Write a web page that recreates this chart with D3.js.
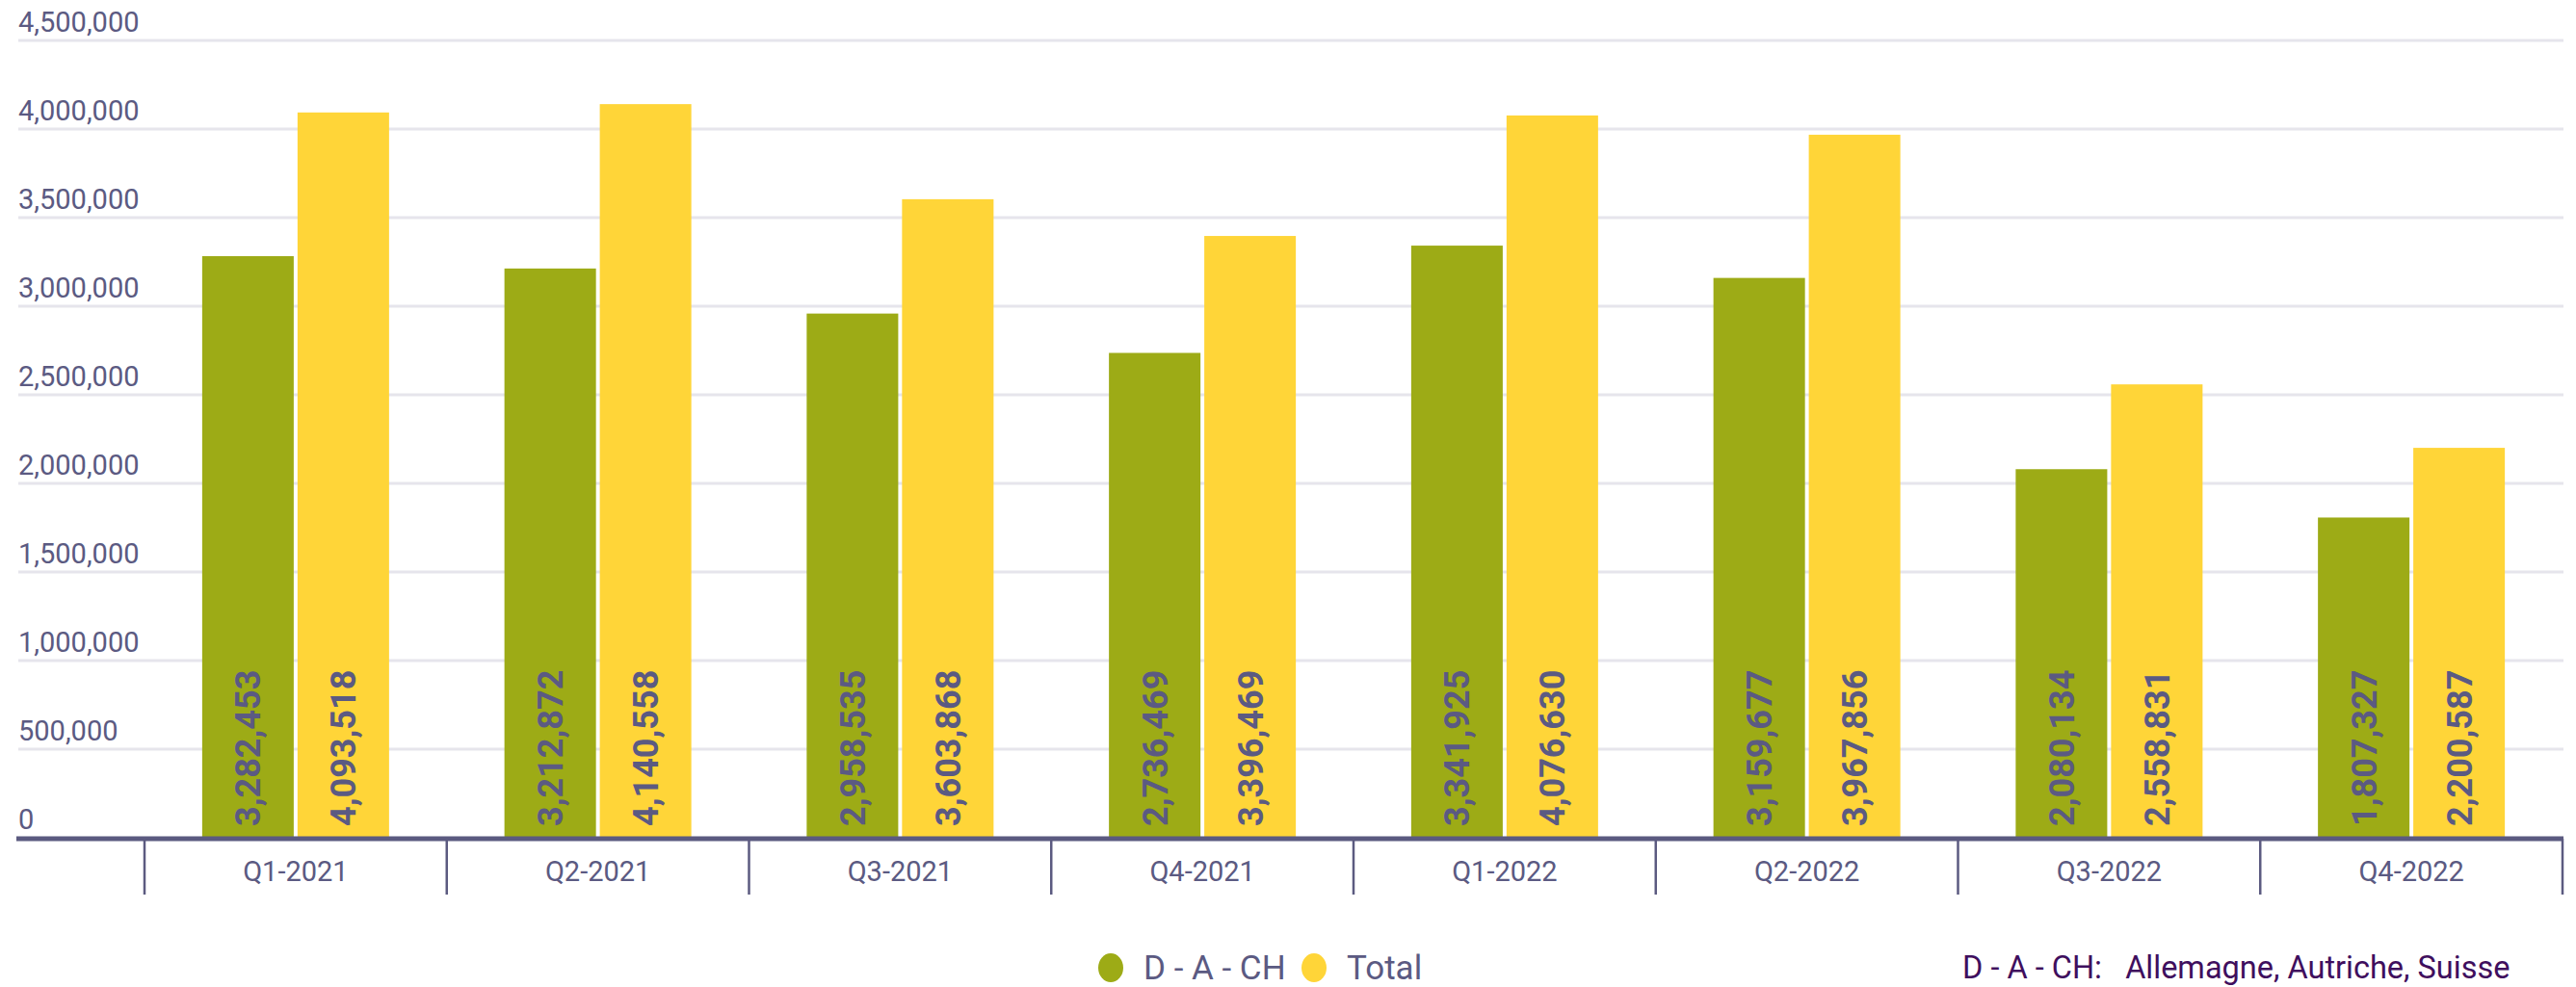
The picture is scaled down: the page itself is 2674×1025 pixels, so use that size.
<!DOCTYPE html>
<html lang="fr">
<head>
  <meta charset="UTF-8">
  <title>D - A - CH vs Total</title>
  <style>
    html, body {
      margin: 0;
      padding: 0;
      overflow: hidden;
      background: #fff;
      font-family: Roboto, 'Noto Sans', sans-serif;
    }
    svg { display: block; }
  </style>
</head>
<body>
<svg></svg>
<script src="https://d3js.org/d3.v7.min.js"></script>
<script>
const W = 2674, H = 1025;

const quarters = ["Q1-2021", "Q2-2021", "Q3-2021", "Q4-2021", "Q1-2022", "Q2-2022", "Q3-2022", "Q4-2022"];
const series = ["D - A - CH", "Total"];
const dach = [3282453, 3212872, 2958535, 2736469, 3341925, 3159677, 2080134, 1807327];
const total = [4093518, 4140558, 3603868, 3396469, 4076630, 3967856, 2558831, 2200587];
const yTicks = [0, 500000, 1000000, 1500000, 2000000, 2500000, 3000000, 3500000, 4000000, 4500000];
const colors = ["#9dab16", "#ffd538"];
const note = "D - A - CH:   Allemagne, Autriche, Suisse";

const textCol = "#5b5a82";
const fmt = d3.format(",");

const svg = d3.select("svg").attr("width", W).attr("height", H);

const y = d3.scaleLinear().domain([0, 4500000]).range([870, 42]);
const x0 = d3.scaleBand().domain(quarters).range([150, 2660]);
const x1 = d3.scaleBand().domain(series).range([0, 194]).paddingInner(0.04);
const groupOff = (x0.bandwidth() - 194) / 2;

// grid + y labels
const grid = svg.append("g");
grid.selectAll("line").data(yTicks.slice(1)).enter().append("line")
  .attr("x1", 19).attr("x2", 2661)
  .attr("y1", d => y(d)).attr("y2", d => y(d))
  .attr("stroke", "#e6e5ec").attr("stroke-width", 3);
grid.selectAll("text").data(yTicks).enter().append("text")
  .attr("x", 19).attr("y", d => y(d) - 9)
  .attr("fill", textCol).attr("font-size", 29)
  .text(d => fmt(d));

// bars
const rows = quarters.map((q, i) => ({ q, vals: [dach[i], total[i]] }));
const g = svg.selectAll(".grp").data(rows).enter().append("g")
  .attr("transform", d => `translate(${x0(d.q) + groupOff},0)`);

g.selectAll("rect").data(d => d.vals.map((v, j) => ({ s: series[j], v, j })))
  .enter().append("rect")
  .attr("x", d => x1(d.s)).attr("width", x1.bandwidth())
  .attr("y", d => y(d.v)).attr("height", d => y(0) - y(d.v))
  .attr("fill", d => colors[d.j]);

g.selectAll("text").data(d => d.vals.map((v, j) => ({ s: series[j], v })))
  .enter().append("text")
  .attr("transform", d => `translate(${x1(d.s) + x1.bandwidth() / 2},858) rotate(-90)`)
  .attr("dy", "0.36em")
  .attr("fill", textCol).attr("font-size", 36).attr("font-weight", "bold")
  .text(d => fmt(d.v));

// x axis
svg.append("line").attr("x1", 17).attr("x2", 2661).attr("y1", 871).attr("y2", 871)
  .attr("stroke", "#5b5a80").attr("stroke-width", 5);
const xa = svg.append("g").attr("transform", "translate(0,871)")
  .call(d3.axisBottom(x0).tickSize(0).tickPadding(23));
xa.select(".domain").remove();
xa.selectAll("text").attr("fill", textCol).attr("font-size", 29).attr("font-family", "Roboto");
svg.selectAll(".sep").data(quarters.map(q => x0(q)).concat([x0.range()[1]]))
  .enter().append("line")
  .attr("x1", d => d).attr("x2", d => d).attr("y1", 871).attr("y2", 929)
  .attr("stroke", "#5b5a80").attr("stroke-width", 2.5);

// legend
const lx = [1153, 1364];
const leg = svg.selectAll(".leg").data(series).enter().append("g")
  .attr("transform", (d, i) => `translate(${lx[i]},1005)`);
leg.append("ellipse").attr("rx", 13).attr("ry", 15).attr("fill", (d, i) => colors[i]);
leg.append("text").attr("x", 34).attr("y", 12)
  .attr("fill", textCol).attr("font-size", 35)
  .text(d => d);

svg.append("text").attr("x", 2037).attr("y", 1016)
  .attr("fill", "#3f0f5e").attr("font-size", 32.5)
  .attr("xml:space", "preserve").style("white-space", "pre")
  .text(note);
</script>
</body>
</html>
